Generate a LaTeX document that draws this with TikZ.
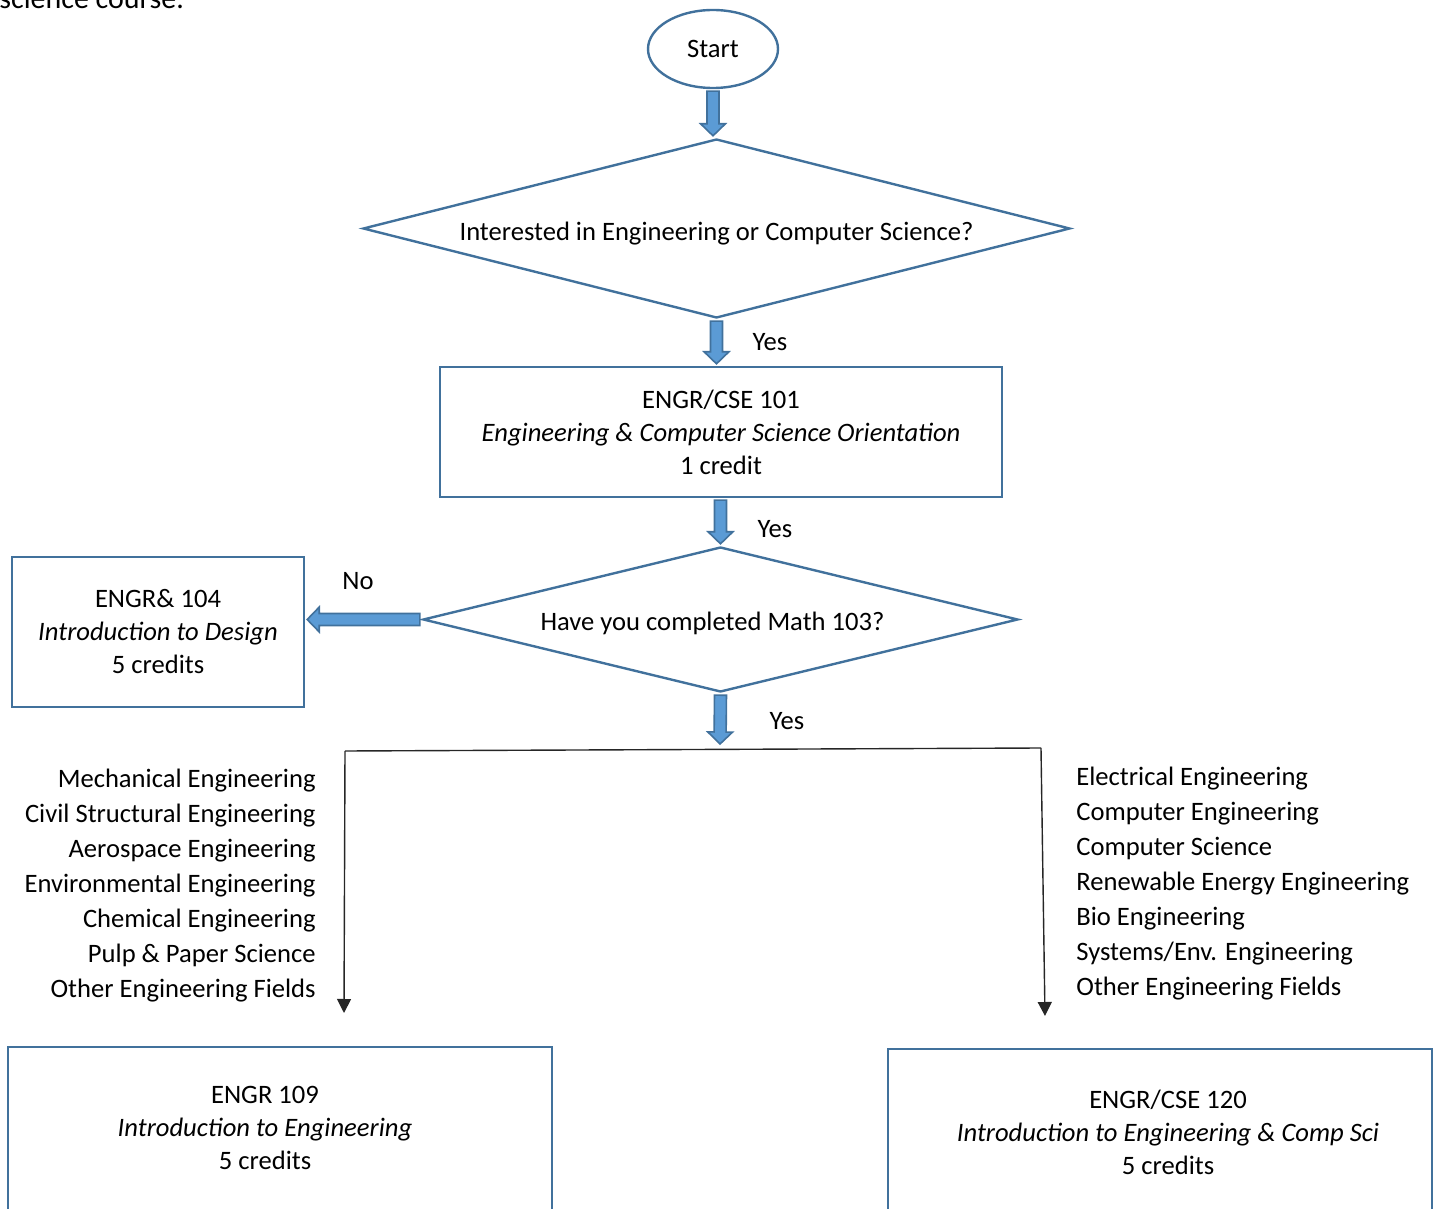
\documentclass[tikz,border=0pt]{standalone}
\usepackage{fontspec}
\setmainfont{Carlito}
\usetikzlibrary{shapes.geometric,arrows.meta,calc}
\definecolor{edgeblue}{HTML}{41719C}
\definecolor{fillblue}{HTML}{5B9BD5}
\tikzset{
  box/.style={draw=edgeblue,line width=1.2pt,rectangle,align=center,inner sep=0pt},
  question/.style={draw=edgeblue,line width=1.2pt,diamond,aspect=4,inner sep=0pt},
  fatarr/.style={draw=edgeblue,fill=fillblue,line width=0.8pt,line join=miter},
  thinarr/.style={draw=black!85,line width=0.7pt},
  fieldlist/.style={inner sep=0pt,font=\fontsize{13.3}{17.5}\selectfont}
}
% block arrow between two points
\newcommand\fatarrow[2]{%
  \coordinate (fa) at ($#1!1pt!#2$);
  \coordinate (fb) at ($#2!1pt!#1$);
  \coordinate (fh) at ($(fb)!6pt!(fa)$);
  \draw[fatarr] ($(fa)!3pt!90:(fb)$) -- ($(fh)!3pt!-90:(fa)$) -- ($(fh)!6.2pt!-90:(fa)$) -- (fb)
    -- ($(fh)!6.2pt!90:(fa)$) -- ($(fh)!3pt!90:(fa)$) -- ($(fa)!3pt!-90:(fb)$) -- cycle;}
\begin{document}
\begin{tikzpicture}[x=0.5pt,y=-0.5pt,font=\fontsize{13.3}{16.5}\selectfont]
	\useasboundingbox (0,0) rectangle (1437,1209);
	\node[anchor=base east,font=\fontsize{15}{18}\selectfont] (intro) at (191,9) {science course.};
	% flow
	\node[ellipse,draw=edgeblue,line width=1.2pt,minimum width=65pt,minimum height=39pt] (start) at (713,49) {Start};
	\node[question,minimum width=353.5pt,minimum height=89.5pt] (q1) at (716.5,228.5) {\raisebox{-2.5pt}[\height][\depth]{Interested in Engineering or Computer Science?}};
	\node[box,minimum width=281pt,minimum height=65pt] (c101) at (721,432) {ENGR/CSE 101\\ \textit{Engineering \& Computer Science Orientation}\\ 1 credit};
	\node[question,minimum width=297.5pt,minimum height=72.5pt] (q2) at (720.5,619.5) {\hspace*{-8pt}\raisebox{-2pt}[\height][\depth]{Have you completed Math 103?}};
	\node[box,minimum width=146pt,minimum height=75pt] (c104) at (158,632) {ENGR\& 104\\ \textit{Introduction to Design}\\ 5 credits};
	\node[box,minimum width=272pt,minimum height=83pt] (c109) at (280,1130) {};
	\node[align=center] (t109) at (265,1128) {ENGR 109\\ \textit{Introduction to Engineering}\\ 5 credits};
	\node[box,minimum width=272pt,minimum height=84pt] (c120) at (1160,1133) {};
	\node[align=center] (t120) at (1168,1132) {ENGR/CSE 120\\ \textit{Introduction to Engineering \& Comp Sci}\\ 5 credits};
	% block arrows
	\coordinate (split) at (720,746);
	\fatarrow{(start.south)}{(start.south |- q1.north)}
	\fatarrow{(q1.south)}{(q1.south |- c101.north)}
	\fatarrow{(q2.north |- c101.south)}{(q2.north)}
	\fatarrow{(q2.west)}{(q2.west -| c104.east)}
	\fatarrow{(q2.south)}{(split)}
	\node (yes1) at (770,342) {Yes};
	\node (yes2) at (775,529) {Yes};
	\node (yes3) at (787,721) {Yes};
	\node (no) at (358,581) {No};
	% branches
	\coordinate (lft) at (345,751);
	\coordinate (rgt) at (1041,748);
	\coordinate (lend) at (344,1013);
	\coordinate (rend) at (1045,1016);
	\draw[thinarr] (lft) -- (rgt);
	\draw[thinarr,-{Triangle[width=7pt,length=7pt]}] (lft) -- (lend);
	\draw[thinarr,-{Triangle[width=7pt,length=7pt]}] (rgt) -- (rend);
	\node[fieldlist,align=right,anchor=east] (mech) at (316,886) {Mechanical Engineering\\ Civil Structural Engineering\\ Aerospace Engineering\\ Environmental Engineering\\ Chemical Engineering\\ Pulp \& Paper Science\\ Other Engineering Fields};
	\node[fieldlist,align=left,anchor=west] (elec) at (1076,884) {Electrical Engineering\\ Computer Engineering\\ Computer Science\\ Renewable Energy Engineering\\ Bio Engineering\\ Systems/Env. Engineering\\ Other Engineering Fields};
\end{tikzpicture}
\end{document}
